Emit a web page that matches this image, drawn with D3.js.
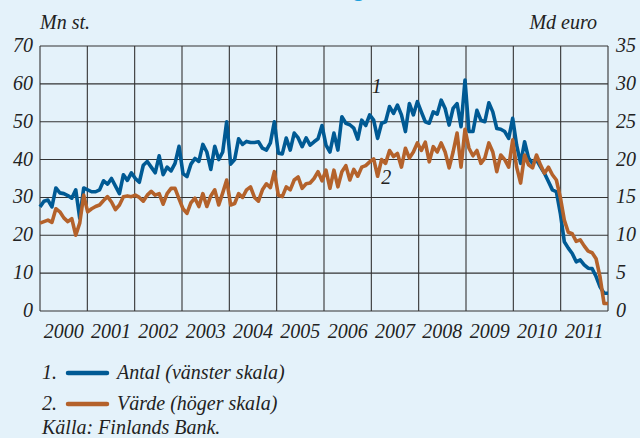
<!DOCTYPE html>
<html>
<head>
<meta charset="utf-8">
<script src="https://cdn.jsdelivr.net/npm/d3@7"></script>
<style>
  html, body { margin: 0; padding: 0; background: #e4f2fa; }
  svg text { font-family: "Liberation Serif", "DejaVu Serif", serif; font-style: italic; fill: #222; }
</style>
</head>
<body>
<div id="chart"></div>
<script>
var width = 640, height = 438;
var margin = { top: 46, right: 32, bottom: 127, left: 40 };

var years = [2000, 2001, 2002, 2003, 2004, 2005, 2006, 2007, 2008, 2009, 2010, 2011];
var leftTicks = [0, 10, 20, 30, 40, 50, 60, 70];
var rightTicks = [0, 5, 10, 15, 20, 25, 30, 35];

// 1. Antal, miljoner st. (monthly, per year)
var antal2000 = [27.5, 29, 29.3, 27.5, 32.5, 31.2, 31, 30.5, 29.8, 32, 24.5, 32.5];
var antal2001 = [32, 31.5, 31.5, 32, 34.4, 33.5, 35, 33, 31, 36, 34.5, 36.5];
var antal2002 = [35, 34, 38.5, 39.5, 38, 36.5, 41, 36, 38, 37, 39, 43.5];
var antal2003 = [36.3, 35.5, 38.8, 40.3, 39.5, 44, 42, 37.4, 43.5, 40, 42, 50];
var antal2004 = [38.8, 40, 45.5, 44, 44.8, 44.5, 44.5, 44.7, 43, 42.5, 44.4, 50];
var antal2005 = [41.7, 41.5, 45.7, 42.5, 47, 45.7, 43.4, 45.7, 43.8, 44.7, 45.5, 49];
var antal2006 = [43.8, 42, 47, 42.5, 51.3, 49.6, 49.2, 48.3, 45.4, 50.4, 49, 51.8];
var antal2007 = [50.4, 45.6, 49.6, 50, 54, 52.2, 54.4, 51.8, 47.4, 54.8, 51.8, 55.3];
var antal2008 = [52.6, 50, 49.6, 52.6, 52, 55.7, 53.5, 49.1, 53.5, 54.8, 48.7, 61];
var antal2009 = [47.4, 47.4, 53, 50.4, 50, 55, 52.6, 48.2, 48, 47.4, 45.6, 50.9];
var antal2010 = [43.8, 39, 44.7, 40.4, 39, 39.9, 38.1, 36.4, 34.2, 32, 31.5, 25.8];
var antal2011 = [18.3, 16.6, 15.2, 13, 13.5, 12.2, 11.3, 11.2, 9.1, 6.4, 4.7, 4.7];

// 2. Värde, md euro (monthly, per year)
var varde2000 = [11.6, 11.8, 12, 11.7, 13.5, 13.1, 12.3, 11.8, 12.2, 10, 11.6, 15.3];
var varde2001 = [13.1, 13.5, 13.8, 14, 14.6, 15.1, 14.4, 13.4, 14, 15.1, 15.2, 15.1];
var varde2002 = [15.3, 15, 14.5, 15.3, 15.8, 15.3, 15.5, 14.1, 15.5, 16.2, 16.2, 14.8];
var varde2003 = [13.5, 12.9, 14.3, 14.9, 13.8, 15.5, 13.8, 15.2, 16, 14, 15.6, 17.3];
var varde2004 = [14, 14.2, 15.5, 15, 16, 16.4, 15, 14.5, 16, 16.8, 16.3, 18.4];
var varde2005 = [15.3, 15.1, 16.4, 16, 17.3, 17.7, 16.2, 16.8, 16.9, 17.5, 18.4, 17.2];
var varde2006 = [18.6, 16.2, 18.6, 16.4, 18.4, 19.2, 17.3, 18.7, 17.8, 19, 19.2, 19.7];
var varde2007 = [20.1, 17.8, 20, 19.5, 21.2, 20.4, 20.8, 19, 21.5, 20.2, 21, 22.2];
var varde2008 = [21.2, 22.3, 19.7, 21.7, 21, 22.2, 21, 18.9, 21, 23.5, 19, 24];
var varde2009 = [21.5, 20.5, 21.2, 19.5, 20.2, 22.2, 21, 18.4, 20.6, 20, 19, 22.6];
var varde2010 = [19, 16.9, 20.6, 19.3, 18.9, 20.6, 19.3, 18.2, 19, 18, 17.3, 15];
var varde2011 = [12, 10.4, 10.2, 9.2, 9.4, 8.6, 7.9, 7.7, 6.9, 4.5, 1, 1];

var antal = [].concat(antal2000, antal2001, antal2002, antal2003, antal2004, antal2005,
    antal2006, antal2007, antal2008, antal2009, antal2010, antal2011);
var varde = [].concat(varde2000, varde2001, varde2002, varde2003, varde2004, varde2005,
    varde2006, varde2007, varde2008, varde2009, varde2010, varde2011);

var blue = "#005a94", orange = "#b4622b", grid = "#333";

var svg = d3.select("#chart").append("svg")
    .attr("width", width)
    .attr("height", height);

var w = width - margin.left - margin.right,
    h = height - margin.top - margin.bottom;

var g = svg.append("g")
    .attr("transform", "translate(" + margin.left + "," + margin.top + ")");

// month index scale, 12 years of months
var x = d3.scaleLinear().domain([0, 144]).range([0, w]);
var n = antal.length;
function xm(i) { return x(i * 144 / (n - 1)); }

var yL = d3.scaleLinear().domain([0, 70]).range([h, 0]);
var yR = d3.scaleLinear().domain([0, 35]).range([h, 0]);

// title, cut off at the top like the source
svg.append("text")
    .attr("x", 335).attr("y", -4)
    .attr("text-anchor", "middle")
    .style("font-style", "normal")
    .style("font-family", "'Open Sans', sans-serif")
    .style("font-size", "20px")
    .style("fill", "#1ea0dc")
    .text("Checkanvändningen i Finland");

// horizontal grid
g.selectAll(".hgrid")
    .data(leftTicks)
    .enter().append("line")
    .attr("x1", 0).attr("x2", w)
    .attr("y1", function (d) { return yL(d); })
    .attr("y2", function (d) { return yL(d); })
    .attr("stroke", grid).attr("stroke-width", 1.1);

// vertical grid at year boundaries
g.selectAll(".vgrid")
    .data(d3.range(0, years.length + 1))
    .enter().append("line")
    .attr("x1", function (d) { return x(d * 12); })
    .attr("x2", function (d) { return x(d * 12); })
    .attr("y1", 0).attr("y2", h)
    .attr("stroke", grid).attr("stroke-width", 1.1);

// left axis labels
g.selectAll(".lt")
    .data(leftTicks)
    .enter().append("text")
    .attr("x", -7)
    .attr("y", function (d) { return yL(d) + 6; })
    .attr("text-anchor", "end")
    .style("font-size", "20px")
    .text(function (d) { return d; });

// right axis labels
g.selectAll(".rt")
    .data(rightTicks)
    .enter().append("text")
    .attr("x", w + 8)
    .attr("y", function (d) { return yR(d) + 6; })
    .style("font-size", "20px")
    .text(function (d) { return d; });

// year labels, centred in each year
g.selectAll(".yr")
    .data(years)
    .enter().append("text")
    .attr("x", function (d, i) { return x(i * 12 + 6); })
    .attr("y", h + 27)
    .attr("text-anchor", "middle")
    .style("font-size", "20px")
    .text(function (d) { return d; });

// unit labels
svg.append("text").attr("x", 40).attr("y", 29)
    .style("font-size", "20px").text("Mn st.");
svg.append("text").attr("x", 597).attr("y", 29)
    .attr("text-anchor", "end")
    .style("font-size", "20px").text("Md euro");

// lines
var lineL = d3.line()
    .x(function (d, i) { return xm(i); })
    .y(function (d) { return yL(d); });
var lineR = d3.line()
    .x(function (d, i) { return xm(i); })
    .y(function (d) { return yR(d); });

g.append("path")
    .datum(antal)
    .attr("d", lineL)
    .attr("fill", "none")
    .attr("stroke", blue)
    .attr("stroke-width", 3.6)
    .attr("stroke-linejoin", "round");

g.append("path")
    .datum(varde)
    .attr("d", lineR)
    .attr("fill", "none")
    .attr("stroke", orange)
    .attr("stroke-width", 3.6)
    .attr("stroke-linejoin", "round");

// series numbers on the chart
g.append("text").attr("x", x(7 * 12 + 1.4)).attr("y", yL(57.5))
    .attr("text-anchor", "middle").style("font-size", "20px").text("1");
g.append("text").attr("x", x(7 * 12 + 3.8)).attr("y", yL(33.5))
    .attr("text-anchor", "middle").style("font-size", "20px").text("2");

// legend
var legend = [
    { num: "1.", label: "Antal (vänster skala)", color: blue },
    { num: "2.", label: "Värde (höger skala)", color: orange }
];
var lg = svg.selectAll(".legend")
    .data(legend)
    .enter().append("g")
    .attr("transform", function (d, i) { return "translate(42," + (379 + i * 31) + ")"; });
lg.append("text").style("font-size", "20px").text(function (d) { return d.num; });
lg.append("line")
    .attr("x1", 26).attr("x2", 65)
    .attr("y1", -6).attr("y2", -6)
    .attr("stroke", function (d) { return d.color; })
    .attr("stroke-width", 4.5)
    .attr("stroke-linecap", "round");
lg.append("text").attr("x", 75).style("font-size", "20px").text(function (d) { return d.label; });

svg.append("text").attr("x", 42).attr("y", 434)
    .style("font-size", "20px").text("Källa: Finlands Bank.");
</script>
</body>
</html>
